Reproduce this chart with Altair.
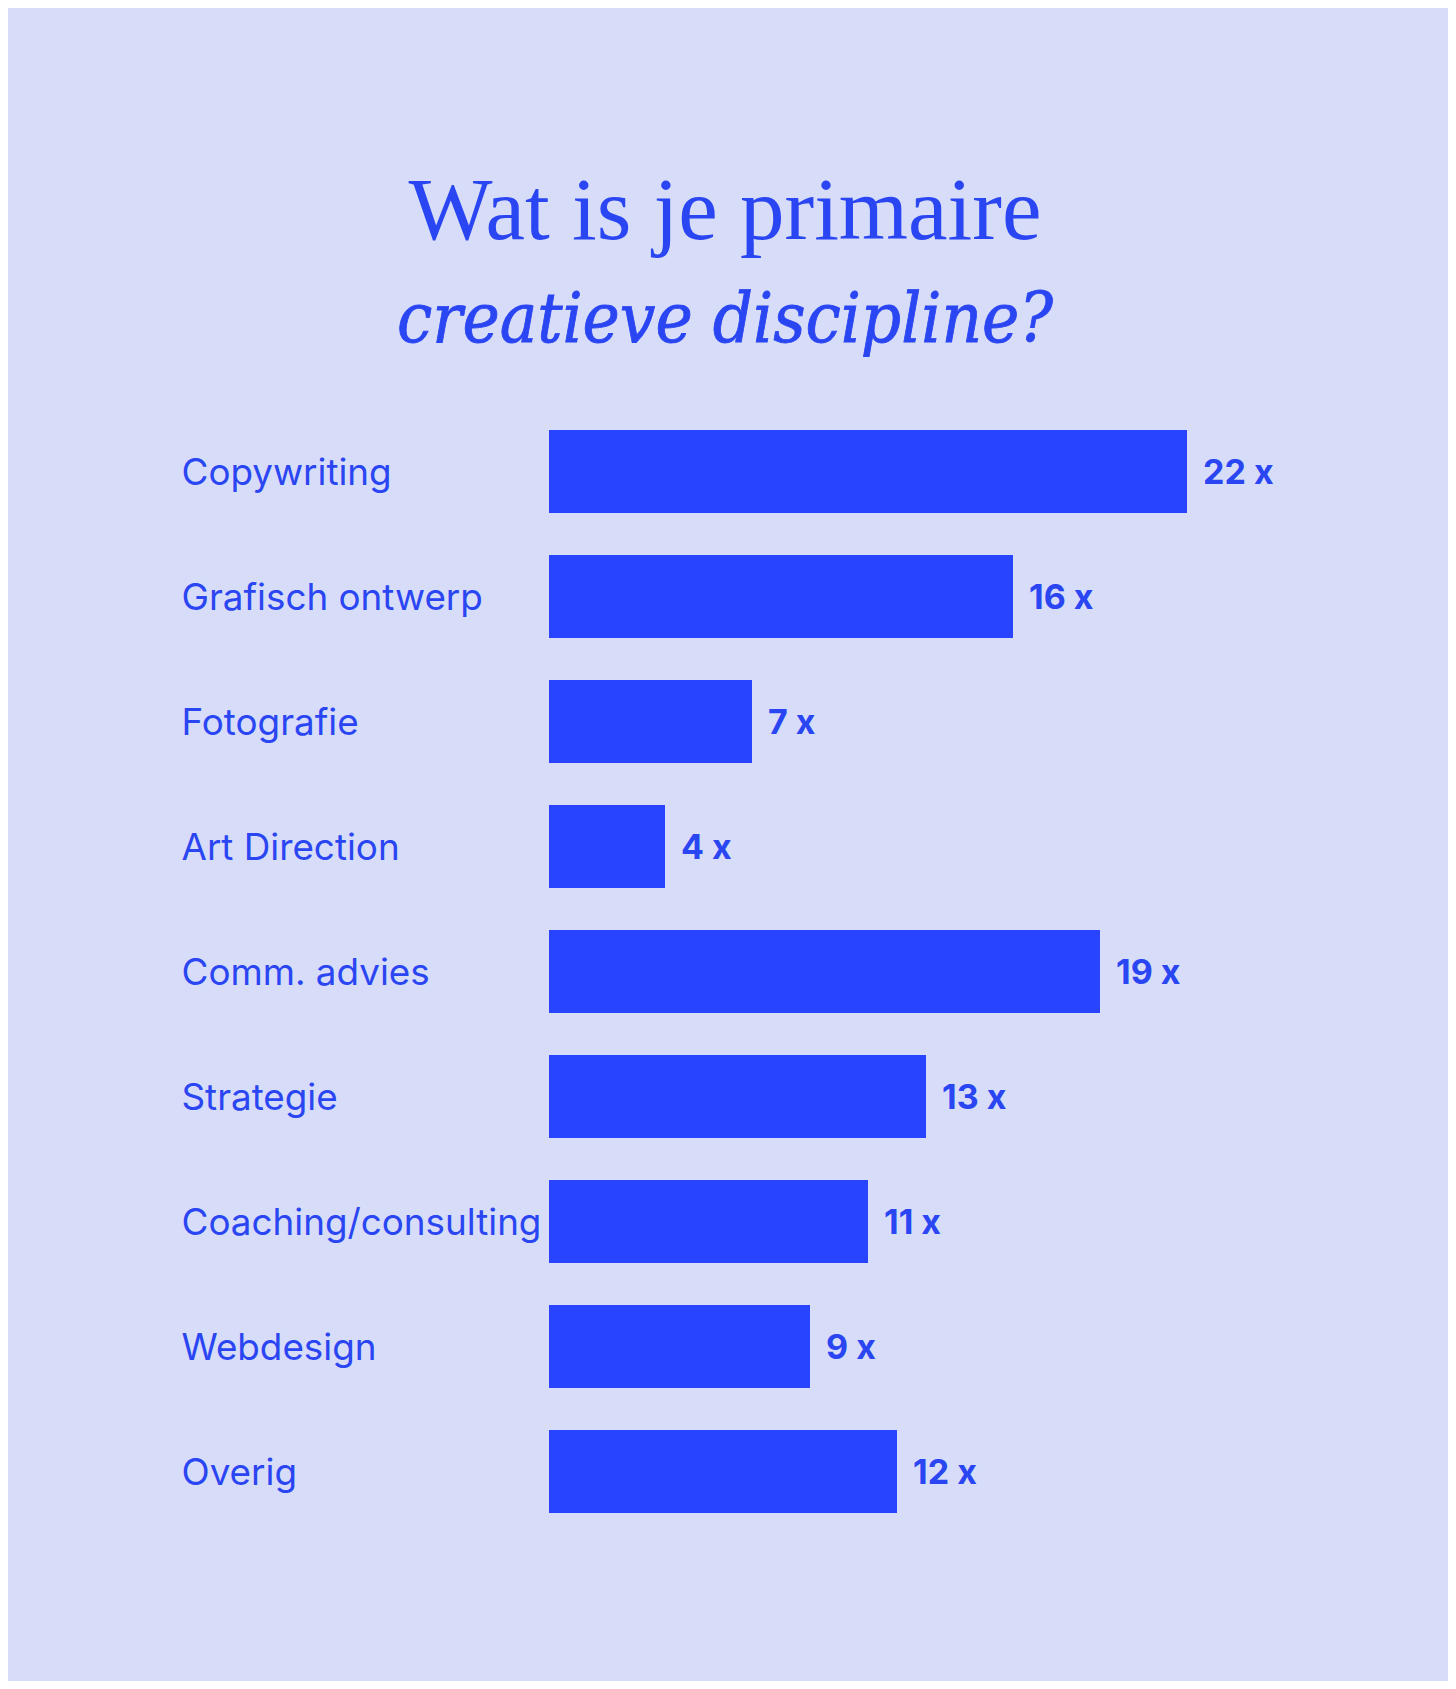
import altair as alt
import pandas as pd

categories = ["Copywriting", "Grafisch ontwerp", "Fotografie", "Art Direction",
              "Comm. advies", "Strategie", "Coaching/consulting", "Webdesign", "Overig"]
counts = [22, 16, 7, 4, 19, 13, 11, 9, 12]
title_line1 = "Wat is je primaire"
title_line2 = "creatieve discipline?"

df = pd.DataFrame({"cat": categories, "n": counts})
df["label"] = df["n"].astype(str) + " x"

BLUE = "#2944FF"
TEXT = "#2A45F2"
BG = "#D7DCF9"

y = alt.Y("cat:N", sort=categories,
          scale=alt.Scale(paddingInner=0.336, paddingOuter=0.168),
          axis=alt.Axis(title=None, domain=False, ticks=False, tickSize=0,
                        labelAlign="left", labelPadding=368, labelLimit=600,
                        labelFont="Inter", labelFontSize=36.8, labelColor=TEXT,
                        labelFontWeight="normal", labelOffset=2))
x = alt.X("n:Q", scale=alt.Scale(domain=[0, 30], nice=False),
          axis=None)

base = alt.Chart(df)
bars = base.mark_bar(color=BLUE, cornerRadius=0).encode(x=x, y=y)
vals = base.mark_text(align="left", baseline="middle", dx=16, dy=2,
                      font="Inter", fontSize=34, fontWeight="bold",
                      color=TEXT).encode(x=x, y=y, text="label:N")

t1 = alt.Chart(pd.DataFrame({"t": [title_line1]})).mark_text(
    align="center", baseline="alphabetic", font="Liberation Serif",
    fontSize=89, color=TEXT).encode(x=alt.value(176), y=alt.value(-170), text="t:N")
t2 = alt.Chart(pd.DataFrame({"t": [title_line2]})).mark_text(
    align="center", baseline="alphabetic", font="DejaVu Serif Condensed, Liberation Serif",
    fontSize=70, fontStyle="italic", fontWeight="normal", color=TEXT,
    stroke=TEXT, strokeWidth=0.8).encode(
    x=alt.value(176), y=alt.value(-67), text="t:N")

chart = alt.layer(bars, vals, t1, t2).properties(
    width=870, height=1125,
    background=BG,
    padding={"left": 541, "top": 401, "right": 29, "bottom": 147},
    autosize=alt.AutoSizeParams(type="none"),
).configure_view(stroke=None)

chart.save("out.html", embed_options={"renderer": "svg", "actions": False})
